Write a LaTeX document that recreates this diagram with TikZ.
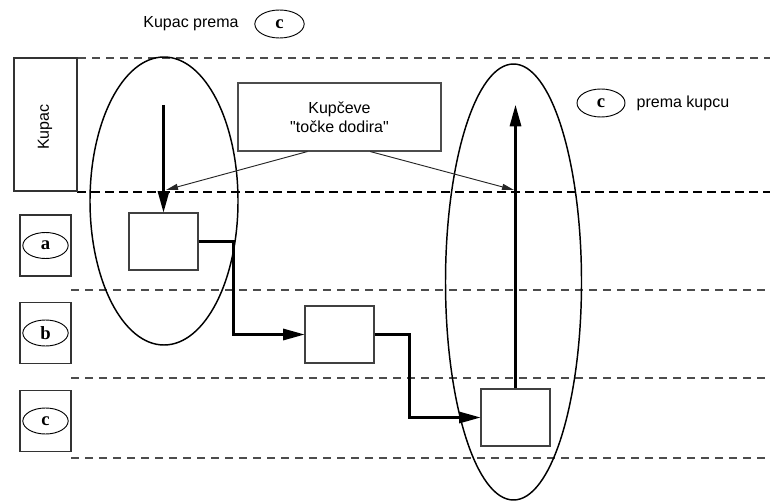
\documentclass[tikz,border=0pt]{standalone}
\usepackage{fontspec}
\setmainfont{Liberation Sans}
\newfontfamily\letterfont{Liberation Serif}
\usepackage{graphicx}
\usepackage{tikz}
\usetikzlibrary{shapes, arrows.meta, positioning}

\tikzset{
    stepbox/.style={draw=black!75, line width=0.8pt, fill=white, minimum width=51.75pt, minimum height=42.75pt},
    sidebox/.style={draw=black!80, line width=0.8pt, minimum width=38.25pt, minimum height=45.75pt},
    letter/.style={draw, ellipse, line width=0.7pt, minimum width=34pt, minimum height=19.5pt, inner sep=0pt, font=\letterfont\bfseries\fontsize{14}{16}\selectfont},
    lane/.style={draw=black!70, line width=0.9pt, dash pattern=on 6pt off 4.5pt},
    border/.style={draw=black, line width=2pt, dash pattern=on 6.5pt off 4pt},
    flow/.style={line width=1.6pt, -{Triangle[length=16pt, width=8.5pt]}},
    touch/.style={line width=0.7pt, black!85, -{Triangle[length=9pt, width=4.5pt]}},
    zone/.style={line width=1.1pt}
}

\begin{document}
\begin{tikzpicture}[x=0.75pt, y=-0.75pt, font=\fontsize{12}{14.5}\selectfont]
    \useasboundingbox (0,0) rectangle (770,502);

    \draw[lane] (78,58) -- (770,58);
    \draw[border] (77,192) -- (770,192);
    \draw[lane] (71,290) -- (770,290);
    \draw[lane] (71,378) -- (770,378);
    \draw[lane] (71,458) -- (770,458);

    \draw[zone] (164,201) ellipse (74 and 144);
    \draw[zone] (513.5,282) ellipse (68 and 218);

    \node (kupacprema) at (191,24) {Kupac prema};
    \node[letter, minimum width=37pt, minimum height=21pt] (ctop) at (279.5,24) {c};
    \node[letter, minimum width=36pt, minimum height=21pt] (cright) at (601,103) {c};
    \node[anchor=west] (premakupcu) at (632,103) {prema kupcu};

    \node[draw=black!80, line width=0.8pt, minimum width=47.25pt, minimum height=99.75pt] (kupac) at (45.5,124.5) {};
    \node (kupactext) at (45,127) {\rotatebox{90}{Kupac}};

    \node[sidebox] (boxa) at (45.5,245.5) {};
    \node[letter] (la) at (45.5,245.5) {a};
    \node[sidebox] (boxb) at (45.5,333) {};
    \node[letter] (lb) at (45.5,333) {b};
    \node[sidebox] (boxc) at (45.5,421) {};
    \node[letter] (lc) at (45.5,421) {c};

    \node[draw=black!70, line width=0.8pt, fill=white, minimum width=152.25pt, minimum height=51pt, align=center] (dodir) at (339.5,117) {Kup\v{c}eve\\\textquotedbl to\v{c}ke dodira\textquotedbl};

    \node[stepbox] (s1) at (163.5,241.5) {};
    \node[stepbox] (s2) at (339.5,334.5) {};
    \node[stepbox] (s3) at (515.5,417.5) {};

    \coordinate (ulaz) at (163.5,105);
    \coordinate (izlaz) at (515.5,105);
    \coordinate (dodirl) at (166,190);
    \coordinate (dodird) at (514,190);

    \draw[flow] (ulaz) -- (s1.north);
    \draw[flow] (s1.east) -- ++(35,0) |- (s2.west);
    \draw[flow] (s2.east) -- ++(35,0) |- (s3.west);
    \draw[flow] (s3.north) -- (izlaz);

    \draw[touch] ([xshift=-24pt]dodir.south) -- (dodirl);
    \draw[touch] ([xshift=23pt]dodir.south) -- (dodird);
\end{tikzpicture}
\end{document}
